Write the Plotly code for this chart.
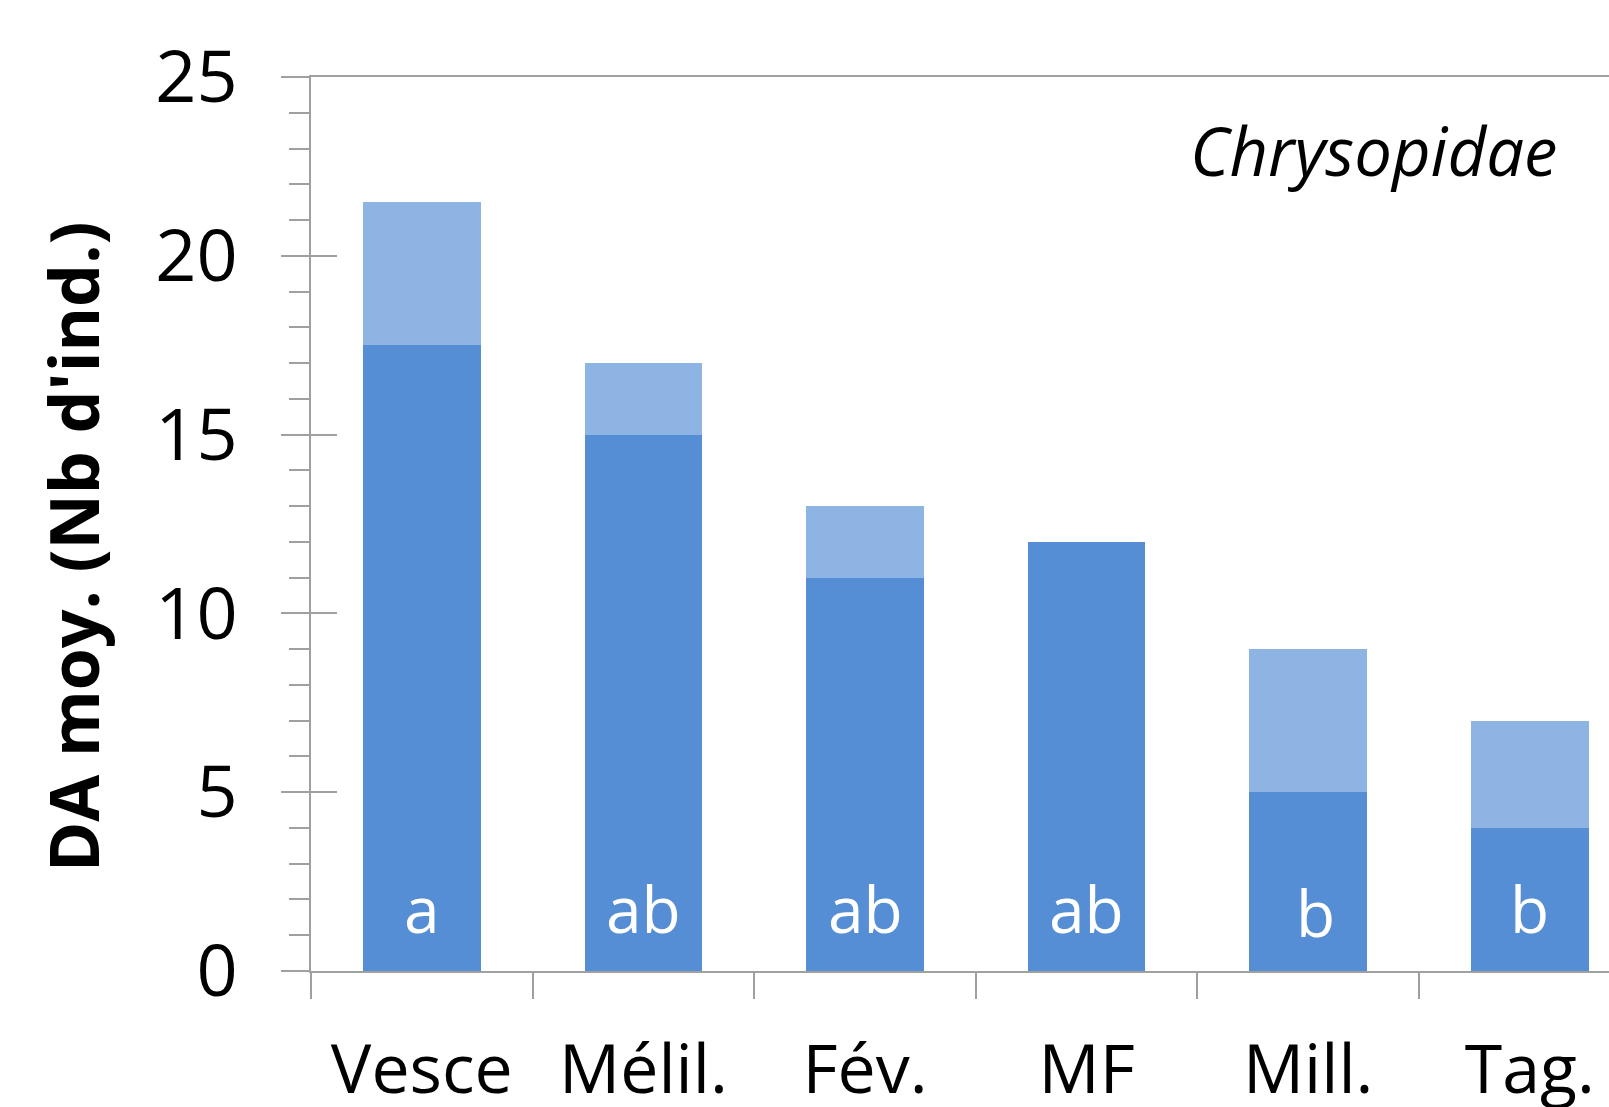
import plotly.graph_objects as go

categories = ["Vesce", "Mélil.", "Fév.", "MF", "Mill.", "Tag."]
base_values = [17.5, 15, 11, 12, 5, 4]
extra_values = [4, 2, 2, 0, 4, 3]
letters = ["a", "ab", "ab", "ab", "b", "b"]
y_ticks = [0, 5, 10, 15, 20, 25]
panel_title = "Chrysopidae"
y_title = "DA moy. (Nb d'ind.)"

DARK = "#558ED5"
LIGHT = "#8EB4E3"
AXIS = "#a0a0a0"
FONT = "Open Sans"

W, H = 1609, 1107
L, R, T = 311, 0, 77
PLOT_H = 894
B = H - T - PLOT_H
cat_px = 221.6
plot_w = W - L - R
x_max = -0.5 + plot_w / cat_px
BAR_W = 0.53

fig = go.Figure()
fig.add_trace(go.Bar(x=categories, y=base_values, marker=dict(color=DARK, line=dict(width=0)),
                     width=BAR_W, showlegend=False, hoverinfo="skip"))
fig.add_trace(go.Bar(x=categories, y=extra_values, marker=dict(color=LIGHT, line=dict(width=0)),
                     width=BAR_W, showlegend=False, hoverinfo="skip"))

letter_xshift = [0, 0, 0, 0, 7, 0]
letter_yshift = [0, 0, 0, 0, -4, 0]
for c, lt, dx, dy in zip(categories, letters, letter_xshift, letter_yshift):
    fig.add_annotation(x=c, y=1.75, xref="x", yref="y", text=lt, showarrow=False,
                       font=dict(family=FONT, size=64, color="white"),
                       xanchor="center", yanchor="middle", xshift=dx, yshift=dy)

fig.add_annotation(x=(72 - L) / plot_w, y=(971 - 547) / PLOT_H, xref="paper", yref="paper",
                   text=y_title, textangle=-90, showarrow=False,
                   font=dict(family=FONT, size=68, color="black", weight="bold"),
                   xanchor="center", yanchor="middle")

fig.add_annotation(x=(1374 - L) / plot_w, y=(971 - 150) / PLOT_H, xref="paper", yref="paper",
                   text="<i>" + panel_title + "</i>", showarrow=False,
                   font=dict(family=FONT, size=67, color="black"),
                   xanchor="center", yanchor="middle")

fig.update_layout(
    width=W, height=H,
    margin=dict(l=L, r=R, t=T, b=B, pad=0, autoexpand=False),
    barmode="stack",
    plot_bgcolor="white", paper_bgcolor="white",
    font=dict(family=FONT, color="black"),
    hovermode=False,
    xaxis=dict(
        type="category", range=[-0.5, x_max], automargin=False,
        showline=True, linecolor=AXIS, linewidth=2, mirror=True,
        ticks="outside", tickson="boundaries", ticklen=26, tickwidth=2, tickcolor=AXIS,
        showgrid=False, zeroline=False,
        tickfont=dict(family=FONT, size=68, color="black"),
        ticklabelstandoff=38,
    ),
    yaxis=dict(
        range=[0, 25], tickvals=y_ticks, automargin=False,
        showline=True, linecolor=AXIS, linewidth=2,
        ticks="outside", ticklen=28, tickwidth=2, tickcolor=AXIS,
        minor=dict(ticks="outside", ticklen=20, dtick=1, tickwidth=2, tickcolor=AXIS, showgrid=False),
        showgrid=False, zeroline=False,
        tickfont=dict(family=FONT, size=72, color="black"),
        ticklabelstandoff=29,
    ),
    yaxis2=dict(
        overlaying="y", matches="y", anchor="x", side="left", automargin=False,
        range=[0, 25], tickvals=y_ticks[:-1],
        ticks="inside", ticklen=26, tickwidth=2, tickcolor=AXIS,
        showticklabels=False, showline=False, showgrid=False, zeroline=False,
    ),
)
fig.add_trace(go.Scatter(x=[categories[0]], y=[0], yaxis="y2", mode="markers",
                         marker=dict(opacity=0), showlegend=False, hoverinfo="skip"))

fig.write_html(
    "out.html",
    config={"displayModeBar": False},
    post_script="document.body.style.margin='0px';document.body.style.overflow='hidden';",
)
